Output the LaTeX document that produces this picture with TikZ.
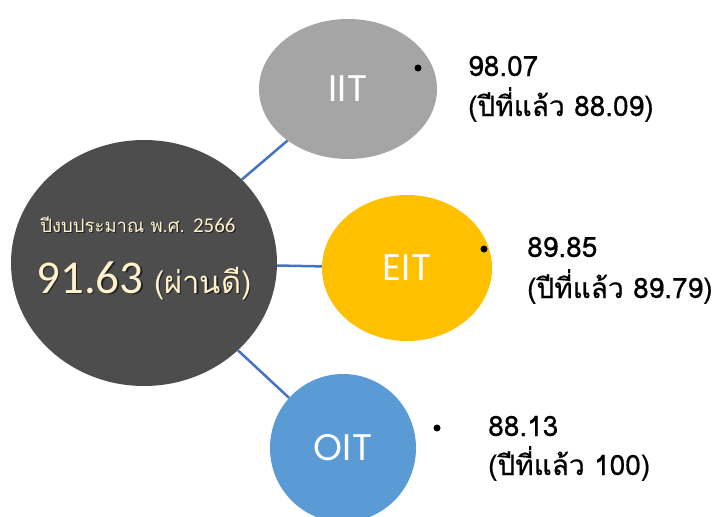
\documentclass[tikz,border=0pt]{standalone}
\usepackage{fontspec}
\usetikzlibrary{shapes.geometric}
\newfontfamily\thaifont[Script=Thai]{Loma}
\newfontfamily\thaiheavy[Script=Thai,FakeBold=0.5]{Loma}
\newfontfamily\calfont{Carlito}
\newfontfamily\geofont{Poppins}
\definecolor{darkc}{HTML}{4D4D4D}
\definecolor{iitc}{HTML}{A5A5A5}
\definecolor{eitc}{HTML}{FFC000}
\definecolor{oitc}{HTML}{5B9BD5}
\definecolor{linkc}{HTML}{4472C4}
\definecolor{creamc}{HTML}{FFF2CC}
\newcommand{\yrtext}{\thaifont\fontsize{18.5}{18.5}\selectfont ปีงบประมาณ พ.ศ. {\calfont\fontsize{21}{21}\selectfont 2566}}
\newcommand{\scoretext}{{\calfont\fontsize{47}{47}\selectfont 91.63}{\thaifont\fontsize{31}{31}\selectfont\ (ผ่านดี)}}
\begin{document}
\begin{tikzpicture}[x=1pt,y=-1pt,
  bubble/.style={ellipse, inner sep=0pt, text=white, font=\geofont\fontsize{37}{37}\selectfont},
  link/.style={draw=linkc, line width=2.5pt},
  dot/.style={circle, fill=black, inner sep=0pt, minimum size=7pt},
  lbl/.style={anchor=base west, inner sep=0pt, font=\thaiheavy\fontsize{28}{28}\selectfont, text=black},
  maintext/.style={anchor=base, inner sep=0pt, text=creamc},
  shadowtext/.style={anchor=base, inner sep=0pt, text=black, opacity=0.55}]
\fill[white] (0,0) rectangle (716,517);
\clip (0,0) rectangle (716,517);
\node[ellipse, fill=darkc, minimum width=266pt, minimum height=246pt, inner sep=0pt] (main) at (144,263) {};
\node[bubble, fill=iitc, minimum width=178pt, minimum height=140pt] (iit) at (348,89) {IIT};
\node[bubble, fill=eitc, minimum width=170pt, minimum height=146pt] (eit) at (407,268) {EIT};
\node[bubble, fill=oitc, minimum width=146pt, minimum height=148pt] (oit) at (343,448) {OIT};
\draw[link] (main) -- (iit);
\draw[link] (main) -- (eit);
\draw[link] (main) -- (oit);
\node[shadowtext] (yrs) at (139.2,233.2) {\yrtext};
\node[maintext] (yr) at (138,232) {\yrtext};
\node[shadowtext] (scores) at (145.5,294.5) {\scoretext};
\node[maintext] (score) at (144,293) {\scoretext};
\node[dot] (d1) at (418,68) {};
\node[dot] (d2) at (484,249) {};
\node[dot] (d3) at (437,428) {};
\node[lbl] (a1) at (468,76) {98.07};
\node[lbl] (b1) at (468,116) {(ปีที่แล้ว 88.09)};
\node[lbl] (a2) at (527,257) {89.85};
\node[lbl] (b2) at (527,298) {(ปีที่แล้ว 89.79)};
\node[lbl] (a3) at (488,436) {88.13};
\node[lbl] (b3) at (488,475) {(ปีที่แล้ว 100)};
\end{tikzpicture}
\end{document}
